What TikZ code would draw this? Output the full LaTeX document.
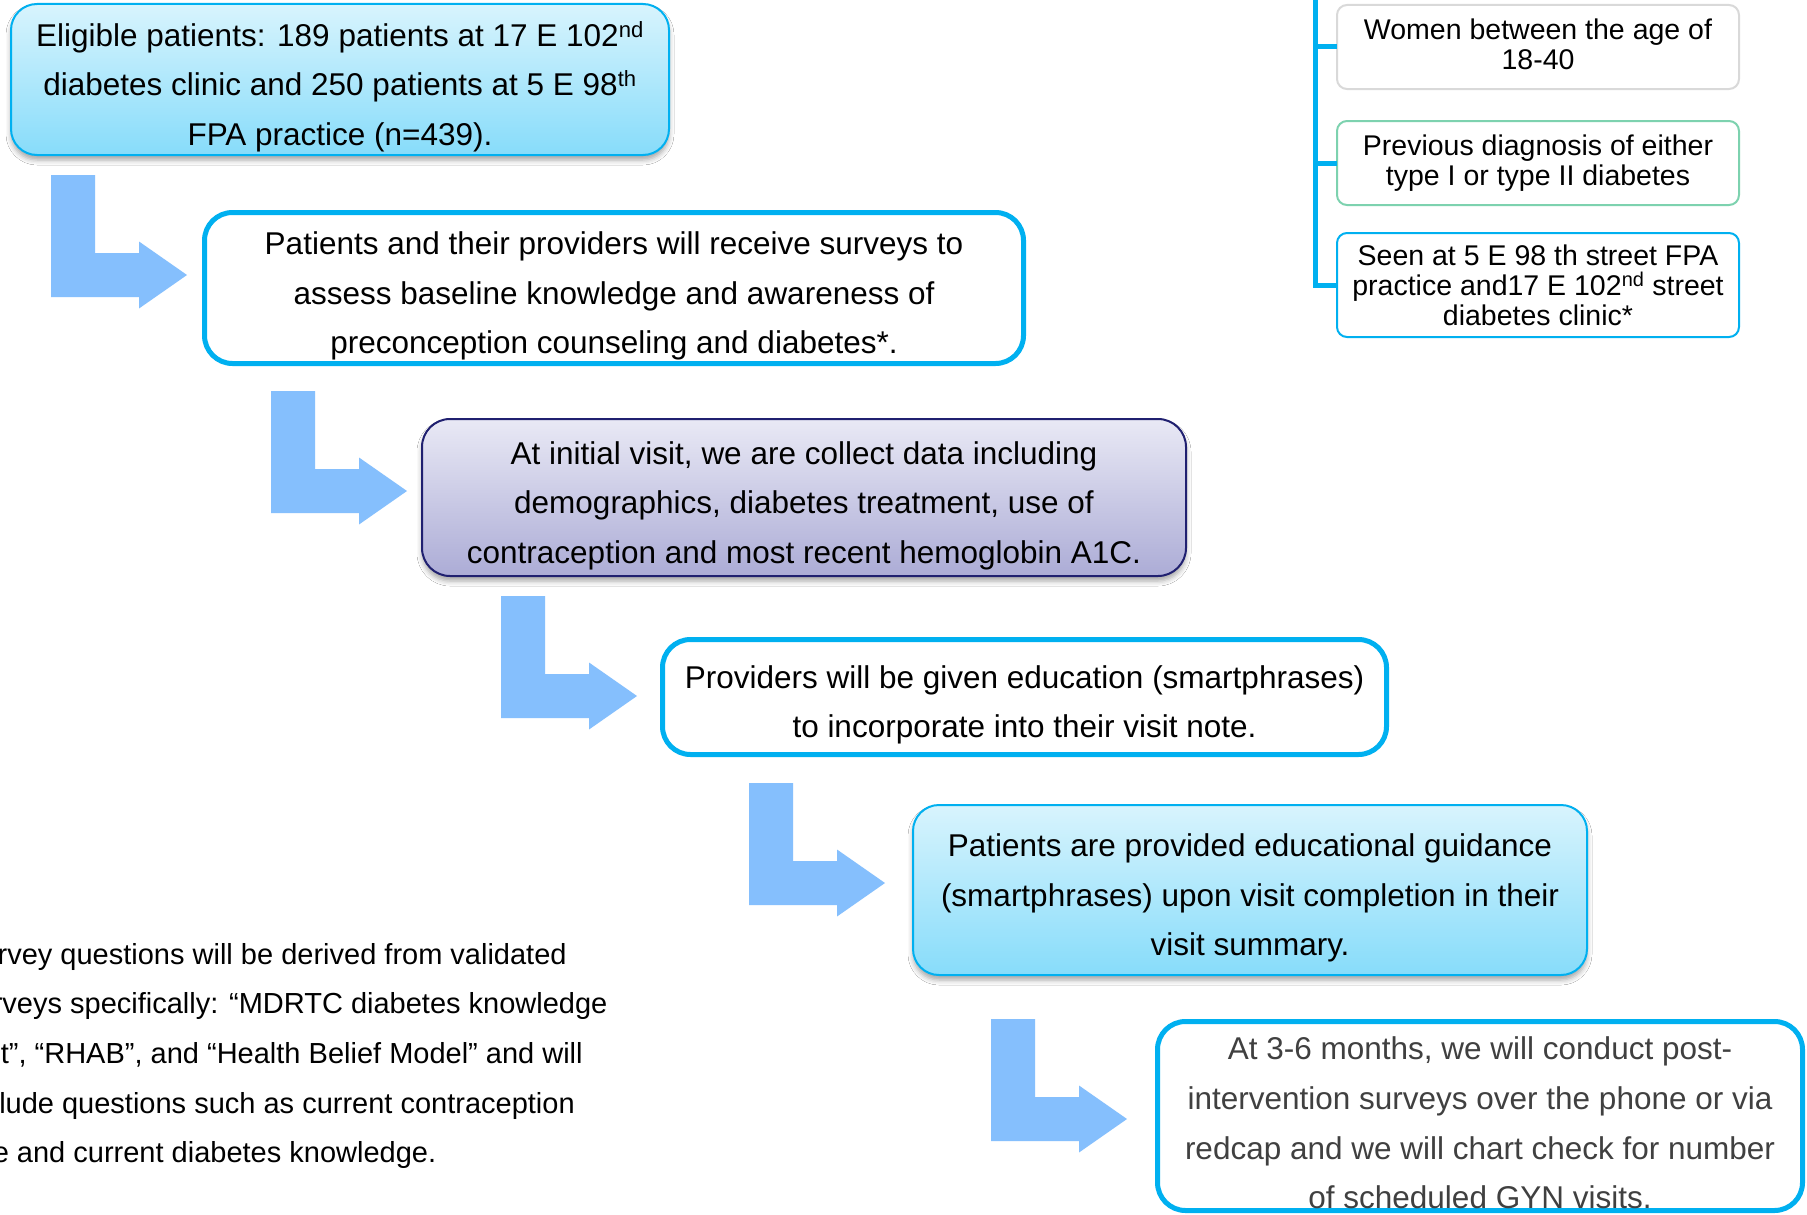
\documentclass[tikz,border=0pt]{standalone}
\usepackage{fontspec}
\setmainfont{Liberation Sans}
\usetikzlibrary{shadows.blur}

\definecolor{cyanline}{RGB}{0,176,240}
\definecolor{arrowblue}{RGB}{133,191,253}
\definecolor{skytop}{RGB}{216,244,253}
\definecolor{skybot}{RGB}{135,220,250}
\definecolor{lavtop}{RGB}{233,233,245}
\definecolor{lavbot}{RGB}{172,172,214}
\definecolor{navyline}{RGB}{32,32,112}
\definecolor{greyline}{RGB}{217,217,217}
\definecolor{mintline}{RGB}{125,210,175}
\definecolor{softgrey}{RGB}{64,64,64}

\tikzset{
  stepfont/.style={font=\fontsize{31.5}{49.6}\selectfont},
  critfont/.style={font=\fontsize{28.5}{30}\selectfont},
  notefont/.style={font=\fontsize{29}{49.6}\selectfont},
  basebox/.style={inner sep=0pt, outer sep=0pt},
  % the wording of a step, set a little below the middle of its box
  steptext/.style={stepfont, align=center, inner sep=0pt},
  % thick white boxes with a bright blue outline
  openbox/.style={basebox, draw=cyanline, line width=5pt, fill=white, rounded corners=28pt},
  % shaded boxes with a thin outline and a soft shadow
  skybox/.style={basebox, draw=cyanline, line width=2pt, rounded corners=26pt,
    top color=skytop, bottom color=skybot,
    blur shadow={shadow xshift=0pt, shadow yshift=-5pt, shadow blur radius=5pt, shadow opacity=35}},
  lavbox/.style={basebox, draw=navyline, line width=2pt, rounded corners=28pt,
    top color=lavtop, bottom color=lavbot,
    blur shadow={shadow xshift=0pt, shadow yshift=-5pt, shadow blur radius=5pt, shadow opacity=35}},
  critbox/.style={basebox, align=center, critfont, fill=white, line width=2pt, rounded corners=10pt,
    minimum width=402pt},
  trunkline/.style={draw=cyanline, line width=5pt},
  bentarrow/.pic={
    \fill[arrowblue] (0,0) -- (44,0) -- (44,78) -- (88,78) -- (88,66.5) -- (136,100)
      -- (88,133.5) -- (88,122) -- (0,122) -- cycle;
  }
}

\begin{document}
\begin{tikzpicture}[x=1pt,y=-1pt]
\useasboundingbox (0,0) rectangle (1807,1215);
\fill[white] (0,0) rectangle (1807,1215);
\clip (0,0) rectangle (1807,1215);

% inclusion criteria with their connecting trunk
\node[critbox, draw=greyline, minimum height=84pt] (crit1) at (1538,47)
  {Women between the age of\\18-40\rule[-6pt]{0pt}{6pt}};
\node[critbox, draw=mintline, minimum height=84pt] (crit2) at (1538,163)
  {Previous diagnosis of either\\type I or type II diabetes};
\node[critbox, draw=cyanline, minimum height=104pt] (crit3) at (1538,285)
  {Seen at 5 E 98 th street FPA\\practice and17 E 102\textsuperscript{nd} street\\diabetes clinic*};
\coordinate (trunk) at (1315,0);
\draw[trunkline] (trunk) |- (crit3.west);
\draw[trunkline] (trunk) |- (crit2.west);
\draw[trunkline] (trunk) |- (crit1.west);

% study steps
\node[skybox, minimum width=658pt, minimum height=151pt] (elig) at (340,79.5) {};
\node[steptext] (eligtext) at ([yshift=-7pt]elig.center)
  {Eligible patients: 189 patients at 17 E 102\textsuperscript{nd}\\
   diabetes clinic and 250 patients at 5 E 98\textsuperscript{th}\\
   FPA practice (n=439).};
\node[openbox, minimum width=819pt, minimum height=151pt] (survey) at (614,288) {};
\node[steptext] (surveytext) at ([yshift=-8pt]survey.center)
  {Patients and their providers will receive surveys to\\
   assess baseline knowledge and awareness of\\
   preconception counseling and diabetes*.};
\node[lavbox, minimum width=764pt, minimum height=157pt] (intake) at (804,497.5) {};
\node[steptext] (intaketext) at ([yshift=-8pt]intake.center)
  {At initial visit, we are collect data including\\
   demographics, diabetes treatment, use of\\
   contraception and most recent hemoglobin A1C.};
\node[openbox, minimum width=724pt, minimum height=115pt] (providers) at (1024.5,697) {};
\node[steptext] (providerstext) at ([yshift=-8pt]providers.center)
  {Providers will be given education (smartphrases)\\
   to incorporate into their visit note.};
\node[skybox, minimum width=674pt, minimum height=170pt] (patients) at (1250,890) {};
\node[steptext] (patientstext) at ([yshift=-8pt]patients.center)
  {Patients are provided educational guidance\\
   (smartphrases) upon visit completion in their\\
   visit summary.};
\node[openbox, minimum width=645pt, minimum height=189pt] (followup) at (1480,1116) {};
\node[steptext, text=softgrey] (followuptext) at ([yshift=-7pt]followup.center)
  {At 3-6 months, we will conduct post-\\
   intervention surveys over the phone or via\\
   redcap and we will chart check for number\\
   of scheduled GYN visits.};

% bent arrows leading from one step to the next
\pic (arrA) at (51,175) {bentarrow};
\pic (arrB) at (271,391) {bentarrow};
\pic (arrC) at (501,596) {bentarrow};
\pic (arrD) at (749,783) {bentarrow};
\pic (arrE) at (991,1019) {bentarrow};

% footnote on the survey sources
\node[notefont, align=left, inner sep=0pt, anchor=north west] (note) at (-38,943)
  {Survey questions will be derived from validated\\
   surveys specifically: “MDRTC diabetes knowledge\\
   test”, “RHAB”, and “Health Belief Model” and will\\
   include questions such as current contraception\\
   use and current diabetes knowledge.};
\end{tikzpicture}
\end{document}
